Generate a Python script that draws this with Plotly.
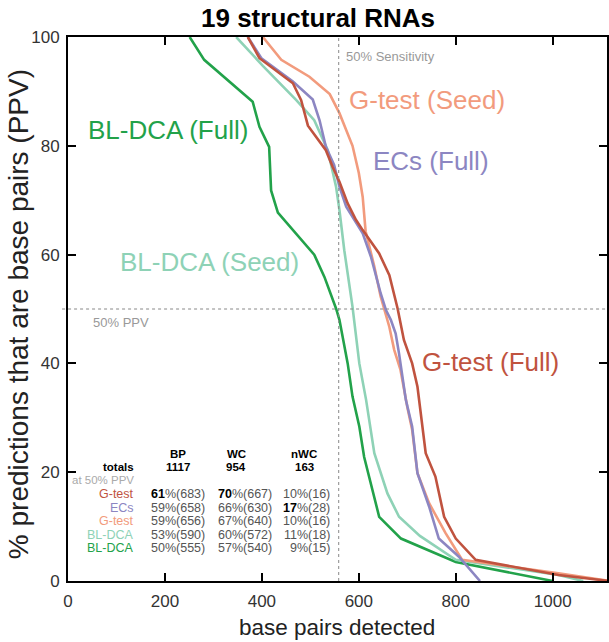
import plotly.graph_objects as go

# ---------------- data ----------------
gfull_x = [371, 395, 464, 481, 495, 532, 546, 560, 577, 594, 608, 625, 642, 663, 680, 693, 710, 721, 728, 738, 758, 776, 800, 841, 1012, 1117]
gfull_y = [100, 96.1, 91.5, 88.4, 83.7, 79.2, 76.1, 73.4, 69.4, 66.4, 64.5, 62.4, 60.2, 56.2, 50.1, 44.3, 40, 35.7, 30.8, 23.5, 19.2, 11.8, 7.8, 3.9, 1.1, 0]

ecs_x = [371, 399, 464, 505, 519, 532, 549, 560, 574, 591, 608, 625, 645, 656, 666, 676, 683, 697, 710, 721, 745, 765, 806, 850]
ecs_y = [100, 96.1, 91.8, 88.5, 84.7, 79.8, 76.5, 72.5, 68.8, 66.4, 63.9, 59.6, 52.9, 49.8, 48, 45.5, 41.8, 33.3, 28.4, 19.8, 13.7, 7.8, 4.5, 0]

gseed_x = [402, 440, 498, 540, 560, 587, 600, 608, 614, 632, 645, 663, 673, 686, 700, 710, 721, 745, 779, 813, 1012, 1117]
gseed_y = [100, 95.8, 92.7, 89.5, 86, 80, 75, 70.6, 64.3, 57.8, 52.3, 46.7, 42.5, 38.8, 32, 27.8, 19.8, 14.3, 8.8, 3.9, 1.4, 0]

blseed_x = [347, 402, 471, 508, 536, 553, 560, 570, 587, 601, 615, 632, 659, 683, 726, 800, 1012, 1063]
blseed_y = [100, 94.7, 88.4, 84.7, 79.2, 72.5, 68.2, 60.8, 50.4, 40, 33.3, 23.5, 16.1, 11.8, 8.3, 3.9, 1.1, 0]

blfull_x = [251, 281, 381, 395, 415, 419, 433, 508, 529, 553, 560, 577, 587, 601, 611, 642, 687, 724, 800, 1000]
blfull_y = [100, 95.8, 88.1, 83.5, 79.8, 71.8, 67.7, 60.0, 55.9, 50.1, 48, 40, 33.9, 28.4, 22.8, 11.8, 7.8, 6.4, 3.5, 0]

series_names = ["BL-DCA (Full)", "BL-DCA (Seed)", "G-test (Seed)", "ECs (Full)", "G-test (Full)"]
series_colors = ["#22A24A", "#8ED2B6", "#F29B7D", "#8C86C2", "#C0533F"]

x_ticks = [0, 200, 400, 600, 800, 1000]
y_ticks = [0, 20, 40, 60, 80, 100]

total_bp = 1117
table_cols = ["BP", "WC", "nWC"]
table_totals = [1117, 954, 163]
table_methods = ["G-test", "ECs", "G-test", "BL-DCA", "BL-DCA"]
table_colors = ["#C0533F", "#8C86C2", "#F29B7D", "#8ED2B6", "#22A24A"]
bp_pct = [61, 59, 59, 53, 50]
bp_n = [683, 658, 656, 590, 555]
wc_pct = [70, 66, 67, 60, 57]
wc_n = [667, 630, 640, 572, 540]
nwc_pct = [10, 17, 10, 11, 9]
nwc_n = [16, 28, 16, 18, 15]

# ---------------- layout helpers ----------------
W, H = 609, 642
PL, PR, PT, PB = 68, 609, 37, 581
FONT = "Liberation Sans, Arial, sans-serif"


def px(x):
    return (x - PL) / (PR - PL)


def py(y):
    return (PB - y) / (PB - PT)


fig = go.Figure()
xs = [blfull_x, blseed_x, gseed_x, ecs_x, gfull_x]
ys = [blfull_y, blseed_y, gseed_y, ecs_y, gfull_y]
for name, c, x, y in zip(series_names, series_colors, xs, ys):
    fig.add_trace(go.Scatter(x=x, y=y, mode="lines", name=name,
                             line=dict(color=c, width=2.6), hoverinfo="skip"))

# reference lines
fig.add_shape(type="line", xref="x", yref="paper", x0=total_bp / 2, x1=total_bp / 2, y0=0, y1=1,
              line=dict(color="#888888", width=1, dash="dot"))
fig.add_shape(type="line", xref="paper", yref="y", x0=-0.011, x1=1, y0=50, y1=50,
              line=dict(color="#888888", width=1, dash="dot"))

ann = []


def A(text, x, y, size, color, xanchor="center", yanchor="middle", **kw):
    ann.append(dict(text=text, x=px(x), y=py(y), xref="paper", yref="paper",
                    showarrow=False, xanchor=xanchor, yanchor=yanchor,
                    font=dict(family=FONT, size=size, color=color), **kw))


A("<b>19 structural RNAs</b>", 319, 18, 26, "black")
A("base pairs detected", 338, 627, 22.5, "#222")
A("% predictions that are base pairs (PPV)", 18, 314, 28, "#222", textangle=-90)
A("50% Sensitivity", 345, 57, 13, "#999999", xanchor="left")
A("50% PPV", 91, 322, 13, "#999999", xanchor="left")

# curve labels
lab_pos = {"G-test (Seed)": (348, 100), "ECs (Full)": (372, 161), "BL-DCA (Full)": (86, 130),
           "BL-DCA (Seed)": (118, 262), "G-test (Full)": (421, 362)}
for name, c in zip(series_names, series_colors):
    x, y = lab_pos[name]
    A(name, x, y, 26, c, xanchor="left")

# table
hx = [178, 237, 305]
for h, t, x in zip(table_cols, table_totals, hx):
    A("<b>%s</b>" % h, x, 453.5, 11.5, "black")
    A("<b>%d</b>" % t, x, 467, 11.5, "black")
A("<b>totals</b>", 136, 467, 11.5, "black", xanchor="right")
A("at 50% PPV", 136, 480.5, 11.5, "#AAAAAA", xanchor="right")


def cell(p, n, best):
    if p == best:
        return "<span style='color:black'><b>%d</b></span>%%(%d)" % (p, n)
    return "%d%%(%d)" % (p, n)


for i, (m, c) in enumerate(zip(table_methods, table_colors)):
    y = 494 + 13.6 * i
    A(m, 136, y, 12.5, c, xanchor="right")
    A(cell(bp_pct[i], bp_n[i], max(bp_pct)), 149, y, 12.5, "#555555", xanchor="left")
    A(cell(wc_pct[i], wc_n[i], max(wc_pct)), 217, y, 12.5, "#555555", xanchor="left")
    A(cell(nwc_pct[i], nwc_n[i], max(nwc_pct)), 333, y, 12.5, "#555555", xanchor="right")

axis_common = dict(ticks="inside", ticklen=8, tickwidth=1.5, tickcolor="black",
                   showline=True, linewidth=2, linecolor="black", mirror="ticks",
                   showgrid=False, zeroline=False,
                   tickfont=dict(family=FONT, size=17, color="#333"))

fig.update_layout(
    width=W, height=H,
    margin=dict(l=PL, r=W - PR, t=PT, b=H - PB, pad=0),
    plot_bgcolor="white", paper_bgcolor="white",
    showlegend=False,
    annotations=ann,
    xaxis=dict(range=[0, (PR - PL) / 0.4865], tickvals=x_ticks, ticklabelstandoff=4, **axis_common),
    yaxis=dict(range=[0, 100], tickvals=y_ticks, ticklabelstandoff=3, **axis_common),
)

fig.write_html("out.html", config={"displayModeBar": False},
               post_script="document.body.style.margin='0';document.body.style.overflow='hidden';")
